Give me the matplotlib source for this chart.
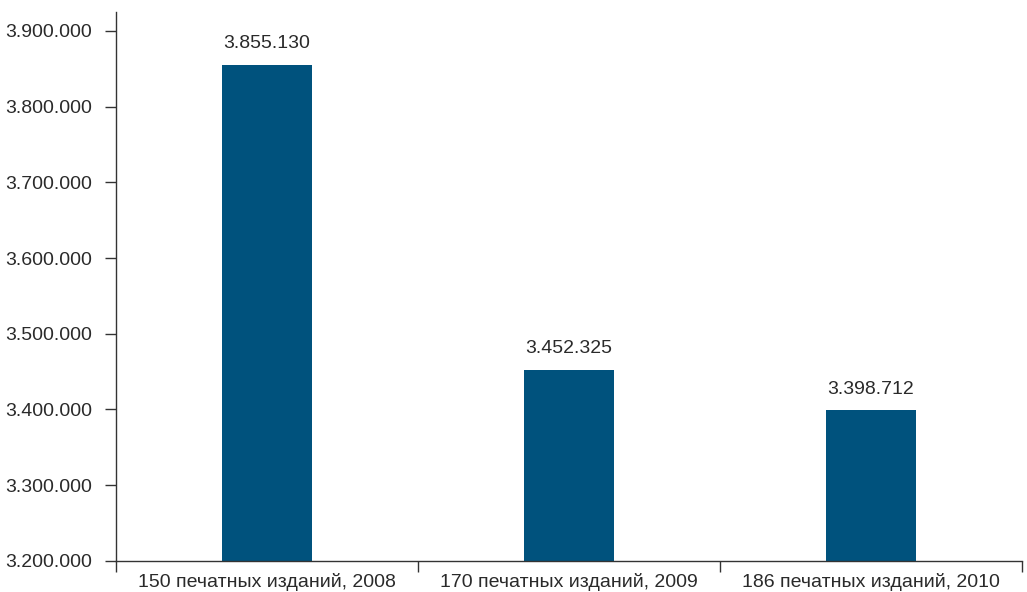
import matplotlib.pyplot as plt
from matplotlib.ticker import FuncFormatter, FixedLocator

categories = ['150 печатных изданий, 2008',
              '170 печатных изданий, 2009',
              '186 печатных изданий, 2010']
values = [3855130, 3452325, 3398712]
y_ticks = [3200000, 3300000, 3400000, 3500000, 3600000, 3700000, 3800000, 3900000]


def dot_fmt(v, pos=None):
    return '{:,.0f}'.format(v).replace(',', '.')


def create_chart():
    plt.rcParams['font.family'] = ['Liberation Sans', 'DejaVu Sans']
    text_color = '#2a2a2a'
    fig = plt.figure(figsize=(10.27, 5.92), dpi=100)
    ax = fig.add_axes([0.113, 0.0524, 0.882, 0.9276])
    x = list(range(len(categories)))
    ax.bar(x, values, width=0.3, color='#00527d')
    for xi, v in zip(x, values):
        ax.annotate(dot_fmt(v), (xi, v), xytext=(0, 9), textcoords='offset points',
                    ha='center', va='bottom', fontsize=14, color=text_color)

    ax.set_xlim(-0.5, 2.5)
    ax.set_ylim(3200000, 3925000)
    ax.set_yticks(y_ticks)
    ax.yaxis.set_major_formatter(FuncFormatter(dot_fmt))
    ax.set_xticks(x)
    ax.set_xticklabels(categories)
    ax.xaxis.set_minor_locator(FixedLocator([-0.5, 0.5, 1.5, 2.5]))
    ax.tick_params(axis='x', which='major', length=0, pad=9, labelsize=14, labelcolor=text_color)
    ax.tick_params(axis='x', which='minor', length=8, width=1, color='#333333')
    ax.tick_params(axis='y', length=8, width=1, color='#333333', labelsize=14,
                   labelcolor=text_color, pad=9)
    for side in ['top', 'right']:
        ax.spines[side].set_visible(False)
    for side in ['left', 'bottom']:
        ax.spines[side].set_color('#333333')
        ax.spines[side].set_linewidth(1)
    fig.savefig('out.png', dpi=100)


create_chart()
